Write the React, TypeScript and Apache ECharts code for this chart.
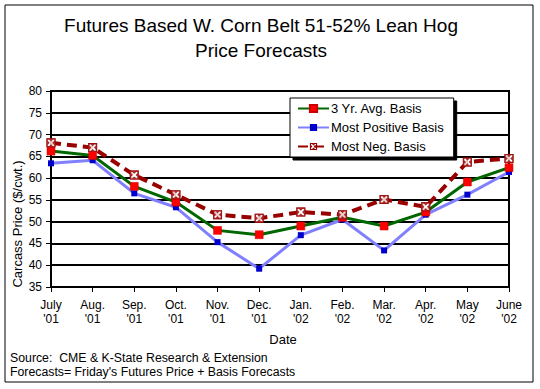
import React, { useEffect, useRef } from "react";
import * as echarts from "echarts";

const categories = ["July\n'01", "Aug.\n'01", "Sep.\n'01", "Oct.\n'01", "Nov.\n'01", "Dec.\n'01", "Jan.\n'02", "Feb.\n'02", "Mar.\n'02", "Apr.\n'02", "May\n'02", "June\n'02"];
const avgBasis = [66.2, 65.2, 58.1, 54.5, 48.0, 47.0, 49.0, 51.0, 49.0, 52.2, 59.1, 62.4];
const mostPositive = [63.4, 64.1, 56.5, 53.3, 45.3, 39.2, 46.9, 50.5, 43.4, 51.6, 56.2, 61.4];
const mostNegative = [68.1, 67.0, 60.7, 56.2, 51.6, 50.8, 52.2, 51.6, 55.1, 53.4, 63.7, 64.5];
const seriesNames = ["3 Yr. Avg. Basis", "Most Positive Basis", "Most Neg. Basis"];
const titleLines = ["Futures Based W. Corn Belt 51-52% Lean Hog", "Price Forecasts"];
const yAxisTitle = "Carcass Price ($/cwt.)";
const xAxisTitle = "Date";
const footLines = ["Source:  CME & K-State Research & Extension", "Forecasts= Friday's Futures Price + Basis Forecasts"];

const FONT = "'Liberation Sans', Arial, sans-serif";
const XBOX_PATH =
  "path://M0,0 L10,0 L10,10 L0,10 Z M1.5,1.5 L1.5,3 L3.5,5 L1.5,7 L1.5,8.5 L3,8.5 L5,6.5 L7,8.5 L8.5,8.5 L8.5,7 L6.5,5 L8.5,3 L8.5,1.5 L7,1.5 L5,3.5 L3,1.5 Z";

export default function App() {
  const ref = useRef<HTMLDivElement>(null);
  useEffect(() => {
    if (!ref.current) return;
    const chart = echarts.init(ref.current, null, { renderer: "svg" });
    chart.setOption({
      animation: false,
      backgroundColor: "#fff",
      textStyle: { fontFamily: FONT },
      grid: { left: 51, right: 31, top: 91, bottom: 102, show: true, borderColor: "#000", borderWidth: 2, backgroundColor: "transparent" },
      legend: {
        data: seriesNames,
        orient: "vertical",
        left: 290,
        top: 98,
        padding: [4, 10, 4, 7],
        itemGap: 6,
        itemWidth: 31,
        itemHeight: 9,
        backgroundColor: "#fff",
        borderColor: "#000",
        borderWidth: 1,
        borderRadius: 0,
        shadowColor: "#000",
        shadowBlur: 0,
        shadowOffsetX: 3,
        shadowOffsetY: 3,
        textStyle: { fontFamily: FONT, fontSize: 13, color: "#000", padding: [0, 0, 0, -3] },
      },
      xAxis: {
        type: "category",
        data: categories,
        boundaryGap: false,
        axisLine: { show: true, lineStyle: { color: "#000", width: 2 } },
        axisTick: { show: true, inside: false, length: 5, lineStyle: { color: "#000", width: 1 } },
        axisLabel: { fontFamily: FONT, fontSize: 12, color: "#000", margin: 11, lineHeight: 14, interval: 0 },
        splitLine: { show: false },
      },
      yAxis: {
        type: "value",
        min: 35,
        max: 80,
        interval: 5,
        axisLine: { show: true, lineStyle: { color: "#000", width: 2 } },
        axisTick: { show: true, inside: false, length: 5, lineStyle: { color: "#000", width: 1 } },
        axisLabel: { fontFamily: FONT, fontSize: 12, color: "#000", margin: 9 },
        splitLine: { show: true, lineStyle: { color: "#000", width: 2 } },
      },
      series: [
        {
          name: seriesNames[0],
          type: "line",
          data: avgBasis,
          symbol: "rect",
          symbolSize: 8,
          z: 3,
          lineStyle: { color: "#006600", width: 3 },
          itemStyle: { color: "#ff0000", borderColor: "#cc0000", borderWidth: 0.5 },
        },
        {
          name: seriesNames[1],
          type: "line",
          data: mostPositive,
          symbol: "rect",
          symbolSize: 6,
          z: 2,
          lineStyle: { color: "#8080ff", width: 3 },
          itemStyle: { color: "#0000cc" },
        },
        {
          name: seriesNames[2],
          type: "line",
          data: mostNegative,
          symbol: XBOX_PATH,
          symbolSize: 9,
          z: 4,
          lineStyle: { color: "#990000", width: 4, type: [10, 6] },
          itemStyle: { color: "#990000" },
        },
        {
          name: "negBg",
          type: "scatter",
          data: mostNegative,
          symbol: "rect",
          symbolSize: 8,
          z: 5,
          itemStyle: { color: "#ffffff" },
          silent: true,
        },
        {
          name: "negMark",
          type: "scatter",
          data: mostNegative,
          symbol: XBOX_PATH,
          symbolSize: 9,
          z: 6,
          itemStyle: { color: "#990000" },
          silent: true,
        },
      ],
      graphic: [
        { type: "rect", shape: { x: 5, y: 5, width: 528, height: 377 }, style: { fill: "none", stroke: "#000", lineWidth: 1 }, silent: true },
        { type: "text", x: 261, y: 25, style: { text: titleLines[0], fontFamily: FONT, fontSize: 19, fill: "#000", textAlign: "center", textVerticalAlign: "middle" } },
        { type: "text", x: 261, y: 50, style: { text: titleLines[1], fontFamily: FONT, fontSize: 19, fill: "#000", textAlign: "center", textVerticalAlign: "middle" } },
        { type: "text", x: 17, y: 224, rotation: Math.PI / 2, style: { text: yAxisTitle, fontFamily: FONT, fontSize: 13, fill: "#000", textAlign: "center", textVerticalAlign: "middle" } },
        { type: "text", x: 283, y: 339, style: { text: xAxisTitle, fontFamily: FONT, fontSize: 13, fill: "#000", textAlign: "center", textVerticalAlign: "middle" } },
        { type: "text", x: 10, y: 358, style: { text: footLines[0], fontFamily: FONT, fontSize: 12.3, fill: "#000", textAlign: "left", textVerticalAlign: "middle" } },
        { type: "text", x: 10, y: 372, style: { text: footLines[1], fontFamily: FONT, fontSize: 12.3, fill: "#000", textAlign: "left", textVerticalAlign: "middle" } },
      ],
    });
    return () => chart.dispose();
  }, []);
  return <div ref={ref} style={{ position: "fixed", left: 0, top: 0, width: 540, height: 389 }} />;
}
